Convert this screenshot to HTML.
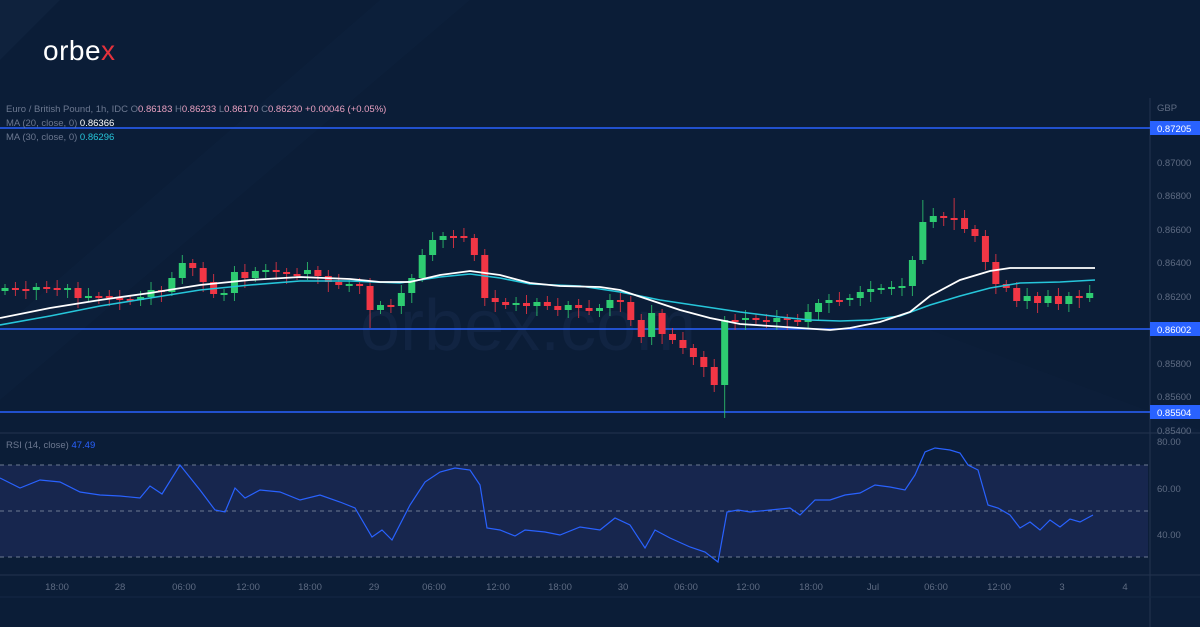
<!DOCTYPE html>
<html><head><meta charset="utf-8"><style>
html,body{margin:0;padding:0;background:#0b1d37;}
svg{display:block;font-family:"Liberation Sans",sans-serif;}
</style></head><body>
<svg id="s" width="1200" height="627" viewBox="0 0 1200 627" xmlns="http://www.w3.org/2000/svg">
<rect width="1200" height="627" fill="#0b1d37"/>
<polygon points="0,0 60,0 0,60" fill="#0f223d"/>
<polygon points="380,0 470,0 0,400 0,330" fill="#0e213c" opacity="0.6"/>
<polygon points="930,330 1200,430 1200,627 930,627" fill="#0d203b" opacity="0.7"/>
<text x="43" y="60" font-size="28" fill="#fff" letter-spacing="0.5">orbe<tspan fill="#e5323c">x</tspan></text>
<text x="360" y="350" font-size="72" fill="#16294a" opacity="0.6">orbex.com</text>
<!-- RSI band -->
<rect x="0" y="465" width="1148" height="92" fill="#1a2852" opacity="0.85"/>
<g stroke="#6d7a92" stroke-dasharray="4,4" stroke-width="1">
<line x1="0" y1="465" x2="1148" y2="465"/><line x1="0" y1="511" x2="1148" y2="511"/><line x1="0" y1="557" x2="1148" y2="557"/>
</g>
<line x1="0" y1="433" x2="1200" y2="433" stroke="#23344f"/>
<line x1="0" y1="575" x2="1200" y2="575" stroke="#23344f"/>
<line x1="1150" y1="98" x2="1150" y2="627" stroke="#23344f"/>
<line x1="0" y1="597" x2="1200" y2="597" stroke="#152844"/>
<!-- horizontal levels -->
<g stroke="#2962ff" stroke-width="1.5">
<line x1="0" y1="128" x2="1150" y2="128"/><line x1="0" y1="329" x2="1150" y2="329"/><line x1="0" y1="412" x2="1150" y2="412"/>
</g>
<g id="candles"></g>
<polyline fill="none" stroke="#26c6da" stroke-width="1.6" points="0,325 50,316 100,306 150,298 200,290 250,285 300,281 350,281 400,283 440,277 470,274 500,278 530,284 580,286 620,292 660,300 700,306 740,312 780,317 810,320 840,321 870,320 900,316 930,305 960,296 990,288 1020,283 1060,282 1095,280"/>
<polyline fill="none" stroke="#ffffff" stroke-width="1.8" points="0,318 50,308 100,300 150,293 200,285 250,280 300,277 350,279 380,282 410,282 440,275 470,271 500,275 530,283 560,286 600,287 620,290 650,300 680,310 710,318 740,324 770,326 800,328 830,330 850,328 880,322 910,312 930,296 960,280 990,271 1010,268 1050,268 1095,268"/>
<polyline fill="none" stroke="#2962ff" stroke-width="1.2" points="0,478 20,488 40,480 60,482 80,492 100,495 120,496 140,498 150,486 162,494 180,465 200,490 215,510 225,512 235,488 245,498 260,490 280,492 300,500 320,495 340,502 355,508 372,537 382,530 392,540 410,505 425,482 440,472 455,468 470,470 480,485 487,528 500,530 515,536 525,530 545,532 560,535 580,527 600,530 615,518 630,525 645,548 655,530 670,538 690,547 705,552 718,562 727,512 738,510 750,512 770,510 790,508 800,515 815,500 830,500 845,495 860,493 875,485 890,487 905,490 915,475 925,452 935,448 950,450 960,453 968,465 978,470 988,505 998,508 1010,515 1020,528 1030,522 1040,530 1050,520 1060,527 1070,519 1080,522 1093,515"/>
<!-- legend -->
<g font-size="9.5">
<text x="6" y="112" fill="#6c7890">Euro / British Pound, 1h, IDC <tspan>O</tspan><tspan fill="#e8a0c0">0.86183</tspan> H<tspan fill="#e8a0c0">0.86233</tspan> L<tspan fill="#e8a0c0">0.86170</tspan> C<tspan fill="#e8a0c0">0.86230</tspan> <tspan fill="#e8a0c0">+0.00046 (+0.05%)</tspan></text>
<text x="6" y="126" fill="#6c7890">MA (20, close, 0) <tspan fill="#ffffff">0.86366</tspan></text>
<text x="6" y="140" fill="#6c7890">MA (30, close, 0) <tspan fill="#26c6da">0.86296</tspan></text>
</g>
<!-- right axis -->
<g font-size="9.5" fill="#5e6b82">
<text x="1157" y="111">GBP</text>
<text x="1157" y="166">0.87000</text><text x="1157" y="199">0.86800</text><text x="1157" y="233">0.86600</text>
<text x="1157" y="266">0.86400</text><text x="1157" y="300">0.86200</text><text x="1157" y="367">0.85800</text>
<text x="1157" y="400">0.85600</text><text x="1157" y="434">0.85400</text>
<text x="1157" y="445">80.00</text><text x="1157" y="492">60.00</text><text x="1157" y="538">40.00</text>
</g>
<g font-size="9.5">
<rect x="1150" y="121" width="50" height="14" fill="#2962ff"/><text x="1157" y="132" fill="#fff">0.87205</text>
<rect x="1150" y="322" width="50" height="14" fill="#2962ff"/><text x="1157" y="333" fill="#fff">0.86002</text>
<rect x="1150" y="405" width="50" height="14" fill="#2962ff"/><text x="1157" y="416" fill="#fff">0.85504</text>
</g>
<text x="6" y="448" font-size="9.5" fill="#6c7890">RSI (14, close) <tspan fill="#2962ff">47.49</tspan></text>
<!-- time axis -->
<g font-size="9.5" fill="#5e6b82" text-anchor="middle">
<text x="57" y="590">18:00</text><text x="120" y="590">28</text><text x="184" y="590">06:00</text><text x="248" y="590">12:00</text>
<text x="310" y="590">18:00</text><text x="374" y="590">29</text><text x="434" y="590">06:00</text><text x="498" y="590">12:00</text>
<text x="560" y="590">18:00</text><text x="623" y="590">30</text><text x="686" y="590">06:00</text><text x="748" y="590">12:00</text>
<text x="811" y="590">18:00</text><text x="873" y="590">Jul</text><text x="936" y="590">06:00</text><text x="999" y="590">12:00</text>
<text x="1062" y="590">3</text><text x="1125" y="590">4</text>
</g>
</svg>
<script>
var c=[288,289,290,287,288,290,288,298,296,296,298,299,300,297,290,292,278,263,268,282,294,293,272,278,271,270,272,274,274,270,276,282,285,284,286,310,305,306,293,278,255,240,236,236,238,255,298,302,305,303,306,302,306,310,305,308,311,308,300,302,320,337,313,334,340,348,357,367,385,320,320,318,320,322,318,320,322,312,303,300,300,298,292,289,288,287,286,260,222,216,218,218,229,236,262,284,288,301,296,303,296,304,296,298,293];
var g=document.getElementById('candles'),h='',prev=291;
var big={69:[318,418],68:[360,392],60:[296,326],35:[283,328],46:[255,300]};
for(var i=0;i<c.length;i++){var x=5+i*10.43,o=prev,cl=c[i];var up=cl<o;var col=up?'#2ecc71':'#f23645';
var t=Math.min(o,cl),b=Math.max(o,cl);if(b-t<2){b=t+2;}
var hi=t-4-(i%3)*2,lo=b+4+(i%4)*2;if(big[i]){hi=Math.min(hi,big[i][0]);lo=Math.max(lo,big[i][1]);}
if(i==88){hi=200;} if(i==91){hi=198;}
h+='<line x1="'+x+'" y1="'+hi+'" x2="'+x+'" y2="'+lo+'" stroke="'+col+'" stroke-width="1" opacity="0.8"/>';
h+='<rect x="'+(x-3.5)+'" y="'+t+'" width="7" height="'+(b-t)+'" fill="'+col+'"/>';prev=cl;}
g.innerHTML=h;
</script>
</body></html>
